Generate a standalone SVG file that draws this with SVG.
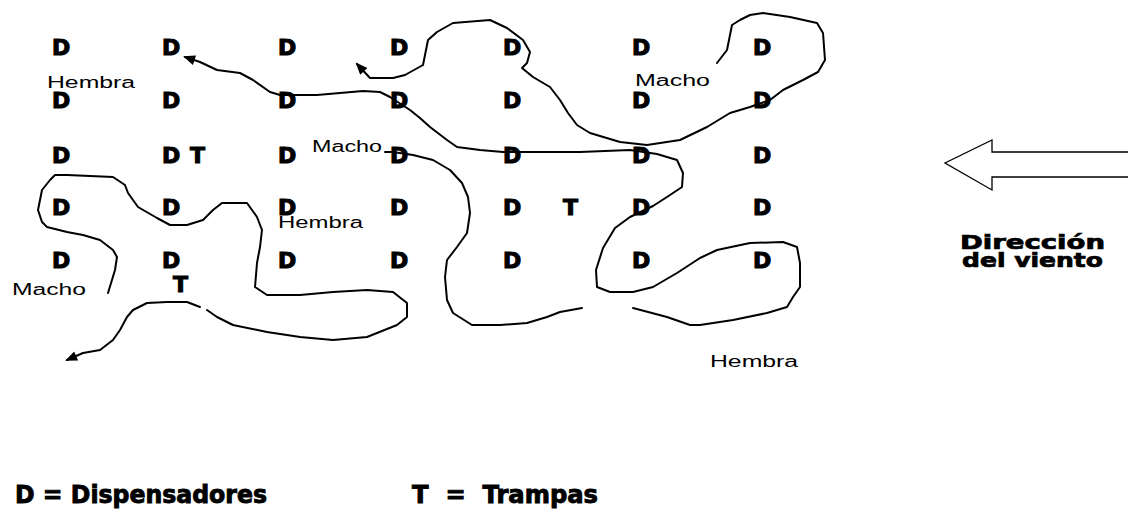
<svg xmlns="http://www.w3.org/2000/svg" width="1128" height="511" viewBox="0 0 1128 511">
<style>
.d{font-family:"DejaVu Sans","Liberation Sans",sans-serif;font-weight:bold;font-size:22px;fill:#000;stroke:#000;stroke-width:1.1}
.lbl{font-family:"Liberation Sans",Arial,sans-serif;font-size:16px;fill:#000}
.big{font-family:"DejaVu Sans","Liberation Sans",sans-serif;font-weight:bold;font-size:19px;fill:#000;stroke:#000;stroke-width:0.7}
.leg{font-family:"DejaVu Sans","Liberation Sans",sans-serif;font-weight:bold;font-size:24px;fill:#000;stroke:#000;stroke-width:0.9}
.c{fill:none;stroke:#000;stroke-width:2;stroke-linejoin:round;stroke-linecap:round}
</style>
<defs>
<marker id="ah" viewBox="0 0 12 10" refX="10" refY="5" markerWidth="13" markerHeight="10" orient="auto-start-reverse" markerUnits="userSpaceOnUse">
<path d="M0,0 L12,5 L0,10 z" fill="#000"/>
</marker>
</defs>
<rect width="1128" height="511" fill="#fff"/>
<g id="dispensadores" class="d">
<text x="52" y="55">D</text><text x="162" y="55">D</text><text x="278" y="55">D</text><text x="390" y="55">D</text><text x="503" y="55">D</text><text x="632" y="55">D</text><text x="753" y="55">D</text>
<text x="52" y="108">D</text><text x="162" y="108">D</text><text x="278" y="108">D</text><text x="390" y="108">D</text><text x="503" y="108">D</text><text x="632" y="108">D</text><text x="753" y="108">D</text>
<text x="52" y="163">D</text><text x="162" y="163">D</text><text x="278" y="163">D</text><text x="390" y="163">D</text><text x="503" y="163">D</text><text x="632" y="163">D</text><text x="753" y="163">D</text>
<text x="52" y="215">D</text><text x="162" y="215">D</text><text x="278" y="215">D</text><text x="390" y="215">D</text><text x="503" y="215">D</text><text x="632" y="215">D</text><text x="753" y="215">D</text>
<text x="52" y="268">D</text><text x="162" y="268">D</text><text x="278" y="268">D</text><text x="390" y="268">D</text><text x="503" y="268">D</text><text x="632" y="268">D</text><text x="753" y="268">D</text>
</g>
<g id="trampas" class="d">
<text x="190" y="163">T</text>
<text x="563" y="215">T</text>
<text x="173" y="292">T</text>
</g>
<g id="labels" class="lbl">
<text x="47" y="88" textLength="88" lengthAdjust="spacingAndGlyphs">Hembra</text>
<text x="635" y="86" textLength="75" lengthAdjust="spacingAndGlyphs">Macho</text>
<text x="312" y="152" textLength="70" lengthAdjust="spacingAndGlyphs">Macho</text>
<text x="278" y="228" textLength="85" lengthAdjust="spacingAndGlyphs">Hembra</text>
<text x="12" y="295" textLength="74" lengthAdjust="spacingAndGlyphs">Macho</text>
<text x="710" y="367" textLength="88" lengthAdjust="spacingAndGlyphs">Hembra</text>
</g>
<g id="connectors" class="c">
<polyline marker-start="url(#ah)" points="185,57 200,62 217,70 240,73 253,80 270,92 280,95 317,95 363,91 380,92 390,97 410,110 420,118 430,127 447,140 457,147 480,150 503,152 580,152 630,150 657,154 677,160 683,173 682,187 667,197 653,206 630,217 615,228 603,248 596,270 597,287 610,292 633,292 653,287 677,273 700,258 717,250 750,243 783,242 797,247 800,263 800,287 793,297 787,307 767,313 733,320 700,325 690,325 667,317 633,308"/>
<polyline marker-start="url(#ah)" points="357,64 370,78 393,78 405,75 423,65 428,40 437,32 453,23 490,20 507,28 523,40 530,52 527,63 522,68 533,77 550,87 560,100 568,113 577,125 590,133 620,142 647,145 680,140 707,127 730,113 750,107 770,100 783,90 803,80 818,72 825,60 823,33 817,23 790,17 763,13 750,15 740,20 732,25 727,50 717,63"/>
<polyline points="385,152 393,152 413,155 433,160 450,170 462,183 468,197 470,213 467,233 457,247 447,260 445,277 447,300 453,313 472,325 500,325 527,323 547,317 560,312 582,308"/>
<polyline points="108,293 115,270 117,257 113,250 100,240 83,235 67,232 47,227 42,222 38,210 42,190 50,180 55,175 67,175 113,177 125,185 128,193 138,207 157,218 170,225 187,225 203,220 213,210 222,203 247,203 257,217 262,230 260,247 257,263 255,287 267,295 300,295 333,292 367,290 393,292 407,303 407,317 397,325 367,337 333,340 300,337 267,332 233,325 217,317 207,310"/>
<polyline marker-end="url(#ah)" points="200,307 187,302 167,302 147,303 133,310 127,317 120,330 113,340 100,350 83,353 67,360"/>
</g>
<g id="viento">
<path d="M1128,152 L992,152 L992,140 L945,163 L992,190 L992,177 L1128,177" fill="none" stroke="#000" stroke-width="1.3"/>
<text class="big" x="960" y="249" textLength="145" lengthAdjust="spacingAndGlyphs">Dirección</text>
<text class="big" x="962" y="267" textLength="141" lengthAdjust="spacingAndGlyphs">del viento</text>
</g>
<g id="leyenda" class="leg">
<text x="15" y="503" textLength="252" lengthAdjust="spacingAndGlyphs">D = Dispensadores</text>
<text x="412" y="503" textLength="186" lengthAdjust="spacingAndGlyphs" xml:space="preserve">T  =  Trampas</text>
</g>
</svg>
